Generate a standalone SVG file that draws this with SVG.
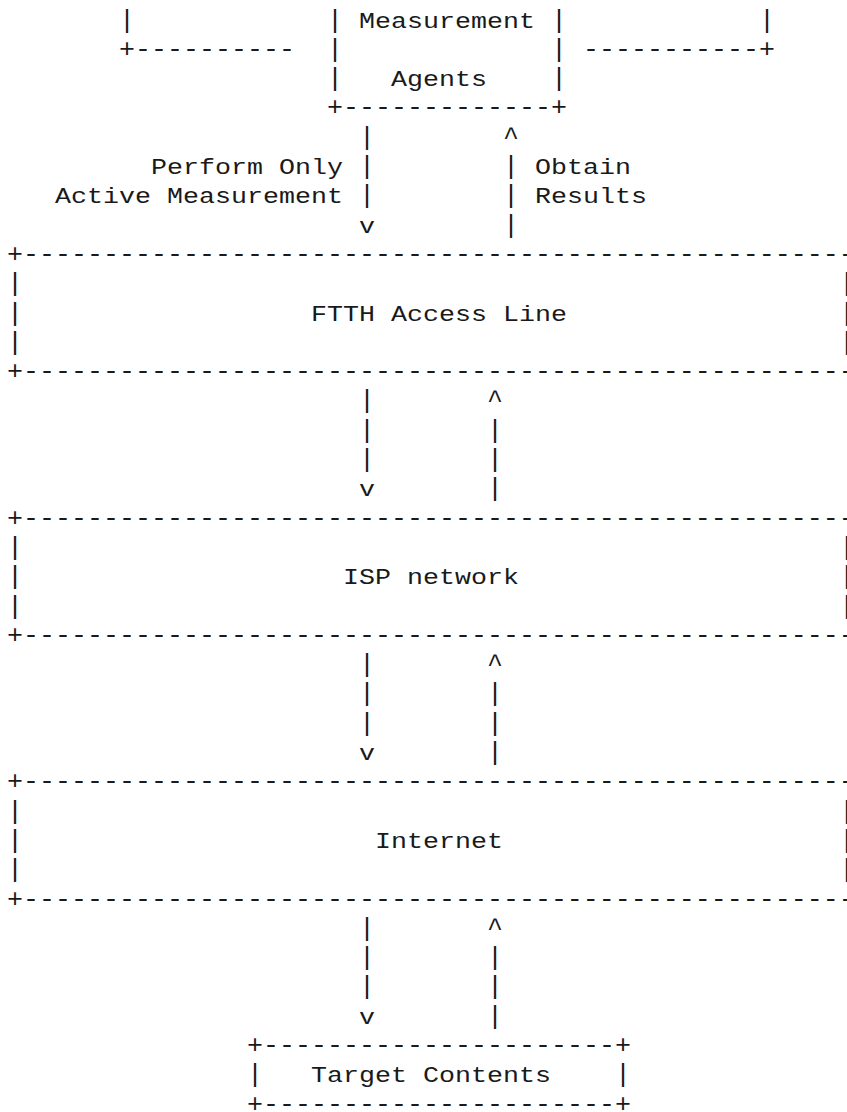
<svg xmlns="http://www.w3.org/2000/svg" width="847" height="1112" viewBox="0 0 847 1112">
<style>
text { font-family: "Liberation Mono", "Courier New", monospace; font-size: 26.667px; fill: #1a1a1a; white-space: pre; }
text.w { font-size: 21.5px; }
</style>
<rect x="0" y="0" width="847" height="1112" fill="#fff"/>
<g id="outer-box" xml:space="preserve">
<text x="119" y="27.5">|</text>
<text x="759" y="27.5">|</text>
<text x="119" y="56.8">+----------</text>
<text x="583" y="56.8">-----------+</text>
</g>
<g id="measurement-agents" xml:space="preserve">
<text x="327" y="27.5">|</text><text class="w" transform="translate(359 27.5) scale(1.2403 1)">Measurement</text><text x="551" y="27.5">|</text>
<text x="327" y="56.8">|</text><text x="551" y="56.8">|</text>
<text x="327" y="86.1">|</text><text class="w" transform="translate(391 86.1) scale(1.2403 1)">Agents</text><text x="551" y="86.1">|</text>
<text x="327" y="115.4">+-------------+</text>
</g>
<g id="ftth-access-line" xml:space="preserve">
<text x="7" y="261.9">+-------------------------------------------------------+</text>
<text x="7" y="291.2">|</text><text x="839" y="291.2">|</text>
<text x="7" y="320.5">|</text><text class="w" transform="translate(311 320.5) scale(1.2403 1)">FTTH Access Line</text><text x="839" y="320.5">|</text>
<text x="7" y="349.8">|</text><text x="839" y="349.8">|</text>
<text x="7" y="379.1">+-------------------------------------------------------+</text>
</g>
<g id="isp-network" xml:space="preserve">
<text x="7" y="525.6">+-------------------------------------------------------+</text>
<text x="7" y="554.9">|</text><text x="839" y="554.9">|</text>
<text x="7" y="584.2">|</text><text class="w" transform="translate(343 584.2) scale(1.2403 1)">ISP network</text><text x="839" y="584.2">|</text>
<text x="7" y="613.5">|</text><text x="839" y="613.5">|</text>
<text x="7" y="642.8">+-------------------------------------------------------+</text>
</g>
<g id="internet" xml:space="preserve">
<text x="7" y="789.3">+-------------------------------------------------------+</text>
<text x="7" y="818.6">|</text><text x="839" y="818.6">|</text>
<text x="7" y="847.9">|</text><text class="w" transform="translate(375 847.9) scale(1.2403 1)">Internet</text><text x="839" y="847.9">|</text>
<text x="7" y="877.2">|</text><text x="839" y="877.2">|</text>
<text x="7" y="906.5">+-------------------------------------------------------+</text>
</g>
<g id="target-contents" xml:space="preserve">
<text x="247" y="1053">+----------------------+</text>
<text x="247" y="1082.3">|</text><text class="w" transform="translate(311 1082.3) scale(1.2403 1)">Target Contents</text><text x="615" y="1082.3">|</text>
<text x="247" y="1111.6">+----------------------+</text>
</g>
<g id="connectors" xml:space="preserve">
<text x="359" y="144.7">|</text><text x="503" y="144.7">^</text>
<text x="359" y="174">|</text><text x="503" y="174">|</text>
<text x="359" y="203.3">|</text><text x="503" y="203.3">|</text>
<text class="w" transform="translate(359 232.6) scale(1.2403 1)">v</text><text x="503" y="232.6">|</text>
<text x="359" y="408.4">|</text><text x="487" y="408.4">^</text>
<text x="359" y="437.7">|</text><text x="487" y="437.7">|</text>
<text x="359" y="467">|</text><text x="487" y="467">|</text>
<text class="w" transform="translate(359 496.3) scale(1.2403 1)">v</text><text x="487" y="496.3">|</text>
<text x="359" y="672.1">|</text><text x="487" y="672.1">^</text>
<text x="359" y="701.4">|</text><text x="487" y="701.4">|</text>
<text x="359" y="730.7">|</text><text x="487" y="730.7">|</text>
<text class="w" transform="translate(359 760) scale(1.2403 1)">v</text><text x="487" y="760">|</text>
<text x="359" y="935.8">|</text><text x="487" y="935.8">^</text>
<text x="359" y="965.1">|</text><text x="487" y="965.1">|</text>
<text x="359" y="994.4">|</text><text x="487" y="994.4">|</text>
<text class="w" transform="translate(359 1023.7) scale(1.2403 1)">v</text><text x="487" y="1023.7">|</text>
</g>
<g id="connector-labels" xml:space="preserve">
<text class="w" transform="translate(151 174) scale(1.2403 1)">Perform Only</text>
<text class="w" transform="translate(55 203.3) scale(1.2403 1)">Active Measurement</text>
<text class="w" transform="translate(535 174) scale(1.2403 1)">Obtain</text>
<text class="w" transform="translate(535 203.3) scale(1.2403 1)">Results</text>
</g>
</svg>
